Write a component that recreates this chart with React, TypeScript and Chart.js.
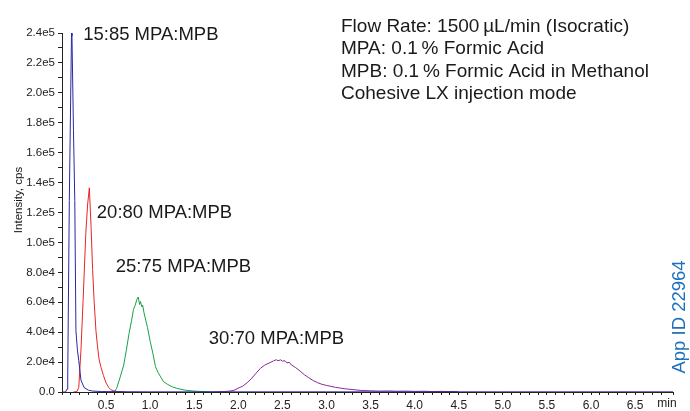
import React, { useEffect, useRef } from "react";
import { Chart, registerables } from "chart.js";

Chart.register(...registerables);

// ---- data (minutes, cps) ----
const blueTimes = [0, 0.04, 0.057, 0.065, 0.083, 0.108, 0.113, 0.13, 0.145, 0.158, 0.175, 0.19, 0.215, 0.25, 0.3, 0.35, 0.45, 0.6, 1.0, 2.0, 3.0, 4.0, 5.0, 6.0, 6.93];
const blueValues = [0, 0, 2000, 10000, 128000, 240000, 238000, 175000, 128000, 41000, 28000, 21000, 8000, 3000, 1200, 600, 300, 200, 100, 100, 100, 100, 100, 100, 100];

const redTimes = [0.13, 0.17, 0.19, 0.215, 0.24, 0.27, 0.29, 0.31, 0.33, 0.347, 0.365, 0.385, 0.4, 0.42, 0.44, 0.47, 0.5, 0.53, 0.555, 0.59, 0.63, 0.7];
const redValues = [0, 300, 3000, 28000, 62000, 106000, 125000, 136500, 110000, 82000, 60000, 41000, 32000, 22000, 17000, 11000, 6000, 3000, 1500, 700, 300, 100];

const greenTimes = [0.55, 0.6, 0.62, 0.65, 0.68, 0.7, 0.73, 0.76, 0.79, 0.81, 0.83, 0.85, 0.865, 0.88, 0.89, 0.905, 0.915, 0.93, 0.95, 0.97, 1.0, 1.03, 1.06, 1.09, 1.12, 1.15, 1.2, 1.25, 1.3, 1.35, 1.4, 1.45, 1.5, 1.55, 1.6, 1.65, 1.7];
const greenValues = [0, 500, 2500, 8000, 14000, 18000, 28000, 39000, 48000, 55000, 58000, 62000, 63500, 58500, 60500, 57000, 58000, 53000, 48000, 43000, 34000, 26000, 17000, 13000, 10000, 7000, 5000, 3500, 2500, 1800, 1200, 900, 600, 400, 300, 200, 0];

const purpleTimes = [1.7, 1.75, 1.8, 1.85, 1.9, 1.95, 2.0, 2.05, 2.1, 2.15, 2.2, 2.25, 2.3, 2.35, 2.4, 2.43, 2.45, 2.48, 2.5, 2.53, 2.55, 2.58, 2.6, 2.65, 2.7, 2.75, 2.8, 2.85, 2.9, 2.95, 3.0, 3.05, 3.1, 3.15, 3.2, 3.3, 3.4, 3.5, 3.6, 3.7, 3.8, 3.9, 4.0, 4.1, 4.2, 4.3, 4.4, 4.45, 4.5];
const purpleValues = [0, 100, 200, 350, 600, 1100, 2600, 3900, 6200, 9000, 12500, 15800, 18000, 19400, 20800, 21600, 20900, 21500, 20600, 20900, 19500, 19800, 18200, 16300, 14000, 11500, 9500, 7600, 6200, 5100, 4400, 3800, 3100, 2700, 2200, 1600, 1000, 800, 600, 700, 500, 600, 400, 500, 300, 400, 300, 400, 0];

const seriesLabels = ["15:85 MPA:MPB", "20:80 MPA:MPB", "25:75 MPA:MPB", "30:70 MPA:MPB"];
const infoLines = [
  "Flow Rate: 1500\u2009\u00b5L/min (Isocratic)",
  "MPA: 0.1\u2009% Formic Acid",
  "MPB: 0.1\u2009% Formic Acid in Methanol",
  "Cohesive LX injection mode",
];
const yTitle = "Intensity, cps";
const xUnit = "min";
const appId = "App ID 22964";

const X_MIN = 0;
const X_MAX = 6.93;
const Y_MIN = 0;
const Y_MAX = 240000;

const FONT = "'Liberation Sans', Arial, Helvetica, sans-serif";

function pts(t: number[], v: number[]) {
  return t.map((x, i) => ({ x, y: v[i] }));
}

const textPlugin = {
  id: "annotText",
  afterDraw(chart: any) {
    const ctx = chart.ctx as CanvasRenderingContext2D;
    const xs = chart.scales.x;
    const ys = chart.scales.y;
    ctx.save();
    ctx.fillStyle = "#1a1a1a";
    ctx.font = `18.5px ${FONT}`;
    ctx.textAlign = "left";
    ctx.textBaseline = "alphabetic";
    // peak labels (anchored in data space)
    const anchors = [
      { x: 0.24, y: 235000 },
      { x: 0.395, y: 116500 },
      { x: 0.61, y: 80000 },
      { x: 1.665, y: 32000 },
    ];
    seriesLabels.forEach((s, i) => {
      ctx.fillText(s, xs.getPixelForValue(anchors[i].x), ys.getPixelForValue(anchors[i].y));
    });
    // info block
    ctx.font = `19px ${FONT}`;
    infoLines.forEach((s, i) => {
      ctx.fillText(s, 341, 32 + i * 22.4);
    });
    // x unit
    ctx.font = `12px ${FONT}`;
    ctx.textAlign = "center";
    ctx.textBaseline = "top";
    ctx.fillText(xUnit, 667, chart.chartArea.bottom + 6);
    // y title
    ctx.save();
    ctx.translate(22, 200);
    ctx.rotate(-Math.PI / 2);
    ctx.font = `11.5px ${FONT}`;
    ctx.textAlign = "center";
    ctx.textBaseline = "alphabetic";
    ctx.fillText(yTitle, 0, 0);
    ctx.restore();
    // App ID
    ctx.save();
    ctx.translate(685, 317);
    ctx.rotate(-Math.PI / 2);
    ctx.fillStyle = "#1f6fbf";
    ctx.font = `18.5px ${FONT}`;
    ctx.textAlign = "center";
    ctx.textBaseline = "alphabetic";
    ctx.fillText(appId, 0, 0);
    ctx.restore();
    ctx.restore();
  },
};

export default function App() {
  const ref = useRef<HTMLCanvasElement>(null);
  useEffect(() => {
    if (!ref.current) return;
    const chart = new Chart(ref.current, {
      type: "line",
      data: {
        datasets: [
          { label: seriesLabels[0], data: pts(blueTimes, blueValues), borderColor: "rgb(40,40,165)" },
          { label: seriesLabels[1], data: pts(redTimes, redValues), borderColor: "rgb(235,35,40)" },
          { label: seriesLabels[2], data: pts(greenTimes, greenValues), borderColor: "rgb(25,160,70)" },
          { label: seriesLabels[3], data: pts(purpleTimes, purpleValues), borderColor: "rgb(140,40,150)" },
        ].map((d) => ({ ...d, borderWidth: 1, pointRadius: 0, tension: 0, fill: false })),
      },
      options: {
        responsive: false,
        animation: false,
        parsing: true,
        layout: { padding: { top: 33, right: 17, left: 0, bottom: 0 } },
        plugins: { legend: { display: false }, tooltip: { enabled: false } },
        scales: {
          x: {
            type: "linear",
            min: X_MIN,
            max: X_MAX,
            afterFit: (s: any) => { s.height = 19; },
            border: { display: true, color: "#222", width: 1 },
            grid: { display: true, drawOnChartArea: false, drawTicks: true, tickLength: 3, color: "#222" },
            ticks: {
              stepSize: 0.1,
              autoSkip: false,
              maxRotation: 0,
              padding: 3,
              color: "#222",
              font: { family: FONT, size: 12 },
              callback: (v: any) => {
                const k = Math.round(Number(v) * 10);
                if (k === 0 || k % 5 !== 0 || Math.abs(Number(v) * 10 - k) > 1e-6) return "";
                return (k / 10).toFixed(1);
              },
            },
          },
          y: {
            type: "linear",
            min: Y_MIN,
            max: Y_MAX,
            afterFit: (s: any) => { s.width = 62; },
            border: { display: true, color: "#222", width: 1 },
            grid: { display: true, drawOnChartArea: false, drawTicks: true, tickLength: 4, color: "#222" },
            ticks: {
              stepSize: 10000,
              autoSkip: false,
              padding: 3,
              color: "#222",
              font: { family: FONT, size: 11.5 },
              callback: (v: any) => {
                const n = Number(v);
                if (Math.round(n / 10000) % 2 !== 0) return "";
                if (n === 0) return "0.0";
                return n.toExponential(1).replace("+", "");
              },
            },
          },
        },
      },
      plugins: [textPlugin],
    });
    return () => chart.destroy();
  }, []);
  return (
    <div style={{ position: "absolute", left: 0, top: 0, width: 690, height: 411 }}>
      <canvas ref={ref} width={690} height={411} style={{ width: 690, height: 411 }} />
    </div>
  );
}
